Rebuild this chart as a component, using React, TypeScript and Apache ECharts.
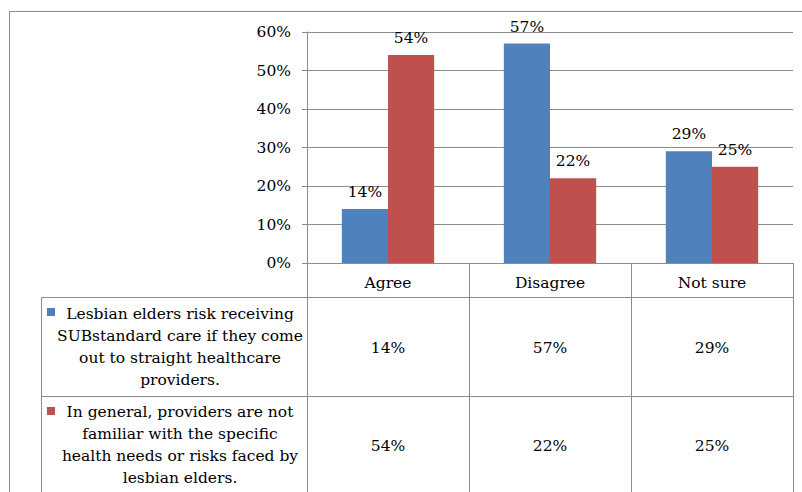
import React, { useEffect, useRef } from "react";
import * as echarts from "echarts";

const categories = ["Agree", "Disagree", "Not sure"];
const seriesNames = [
  "Lesbian elders risk receiving\nSUBstandard care if they come\nout to straight healthcare\nproviders.",
  "In general, providers are not\nfamiliar with the specific\nhealth needs or risks faced by\nlesbian elders.",
];
const blueValues = [14, 57, 29];
const redValues = [54, 22, 25];
const yTicks = [0, 10, 20, 30, 40, 50, 60];

const BLUE = "#4F81BD";
const RED = "#C0504D";
const GRID = "#8c8c8c";
const FONT = "DejaVu Serif";
const FS = 15.5;

// layout constants
const W = 802;
const H = 492;
const G_LEFT = 307;
const G_RIGHT = 793;
const G_TOP = 32;
const G_BOTTOM = 263;
const ROW1_TOP = 297;
const ROW2_TOP = 396;
const ROW2_BOTTOM = 494;
const TABLE_LEFT = 41;

const pct = (v: number) => `${v}%`;

export default function App() {
  const ref = useRef<HTMLDivElement>(null);
  useEffect(() => {
    if (!ref.current) return;
    const chart = echarts.init(ref.current, undefined, { renderer: "svg" });
    const textBase = { fontFamily: FONT, fontSize: FS, color: "#000" };
    const rowCenters = [(ROW1_TOP + ROW2_TOP) / 2, (ROW2_TOP + ROW2_BOTTOM) / 2];
    const valueRows = [blueValues, redValues];
    const colors = [BLUE, RED];

    const xAxes: any[] = [
      {
        type: "category",
        data: categories,
        position: "bottom",
        axisLine: { show: true, lineStyle: { color: GRID, width: 1 } },
        axisTick: { show: true, length: H - G_BOTTOM, lineStyle: { color: GRID, width: 1 } },
        axisLabel: { ...textBase, margin: 12 },
      },
    ];
    valueRows.forEach((vals, r) => {
      xAxes.push({
        type: "category",
        data: categories,
        position: "bottom",
        offset: rowCenters[r] - G_BOTTOM + 1,
        axisLine: { show: false },
        axisTick: { show: false },
        axisLabel: {
          ...textBase,
          margin: 0,
          verticalAlign: "middle",
          formatter: (_v: string, i: number) => pct(vals[i]),
        },
      });
    });

    const graphics: any[] = [
      { type: "line", shape: { x1: 9.5, y1: 11, x2: 9.5, y2: H }, style: { stroke: GRID, lineWidth: 1 } },
      { type: "line", shape: { x1: 9, y1: 11.5, x2: W, y2: 11.5 }, style: { stroke: GRID, lineWidth: 1 } },
      { type: "line", shape: { x1: TABLE_LEFT + 0.5, y1: ROW1_TOP, x2: TABLE_LEFT + 0.5, y2: H }, style: { stroke: GRID, lineWidth: 1 } },
      { type: "line", shape: { x1: TABLE_LEFT, y1: ROW1_TOP + 0.5, x2: G_RIGHT, y2: ROW1_TOP + 0.5 }, style: { stroke: GRID, lineWidth: 1 } },
      { type: "line", shape: { x1: TABLE_LEFT, y1: ROW2_TOP + 0.5, x2: G_RIGHT, y2: ROW2_TOP + 0.5 }, style: { stroke: GRID, lineWidth: 1 } },
    ];
    seriesNames.forEach((name, r) => {
      const top = r === 0 ? ROW1_TOP : ROW2_TOP;
      graphics.push({
        type: "rect",
        shape: { x: 47, y: top + 11, width: 8, height: 8 },
        style: { fill: colors[r] },
      });
      graphics.push({
        type: "text",
        x: 180,
        y: rowCenters[r],
        style: {
          text: name,
          align: "center",
          verticalAlign: "middle",
          lineHeight: 22,
          font: `${FS}px "${FONT}"`,
          fill: "#000",
        },
      });
    });

    chart.setOption({
      animation: false,
      backgroundColor: "#fff",
      grid: { left: G_LEFT, right: W - G_RIGHT, top: G_TOP, bottom: H - G_BOTTOM, containLabel: false },
      xAxis: xAxes,
      yAxis: {
        type: "value",
        min: yTicks[0],
        max: yTicks[yTicks.length - 1],
        interval: 10,
        axisLine: { show: true, lineStyle: { color: GRID, width: 1 } },
        axisTick: { show: true, length: 5, lineStyle: { color: GRID } },
        splitLine: { show: true, lineStyle: { color: GRID, width: 1 } },
        axisLabel: { ...textBase, margin: 16, padding: [4, 0, 0, 0], formatter: (v: number) => pct(v) },
      },
      series: [
        {
          name: seriesNames[0],
          type: "bar",
          data: blueValues,
          xAxisIndex: 0,
          barGap: "0%",
          barCategoryGap: "43%",
          itemStyle: { color: BLUE },
          label: { show: true, position: "top", distance: 9, ...textBase, formatter: (p: any) => pct(p.value) },
        },
        {
          name: seriesNames[1],
          type: "bar",
          data: redValues,
          xAxisIndex: 0,
          barGap: "0%",
          barCategoryGap: "43%",
          itemStyle: { color: RED },
          label: { show: true, position: "top", distance: 9, ...textBase, formatter: (p: any) => pct(p.value) },
        },
      ],
      graphic: graphics,
    });
    return () => chart.dispose();
  }, []);
  return (
    <div
      ref={ref}
      style={{ position: "fixed", left: 0, top: 0, width: W, height: H, background: "#fff" }}
    />
  );
}
